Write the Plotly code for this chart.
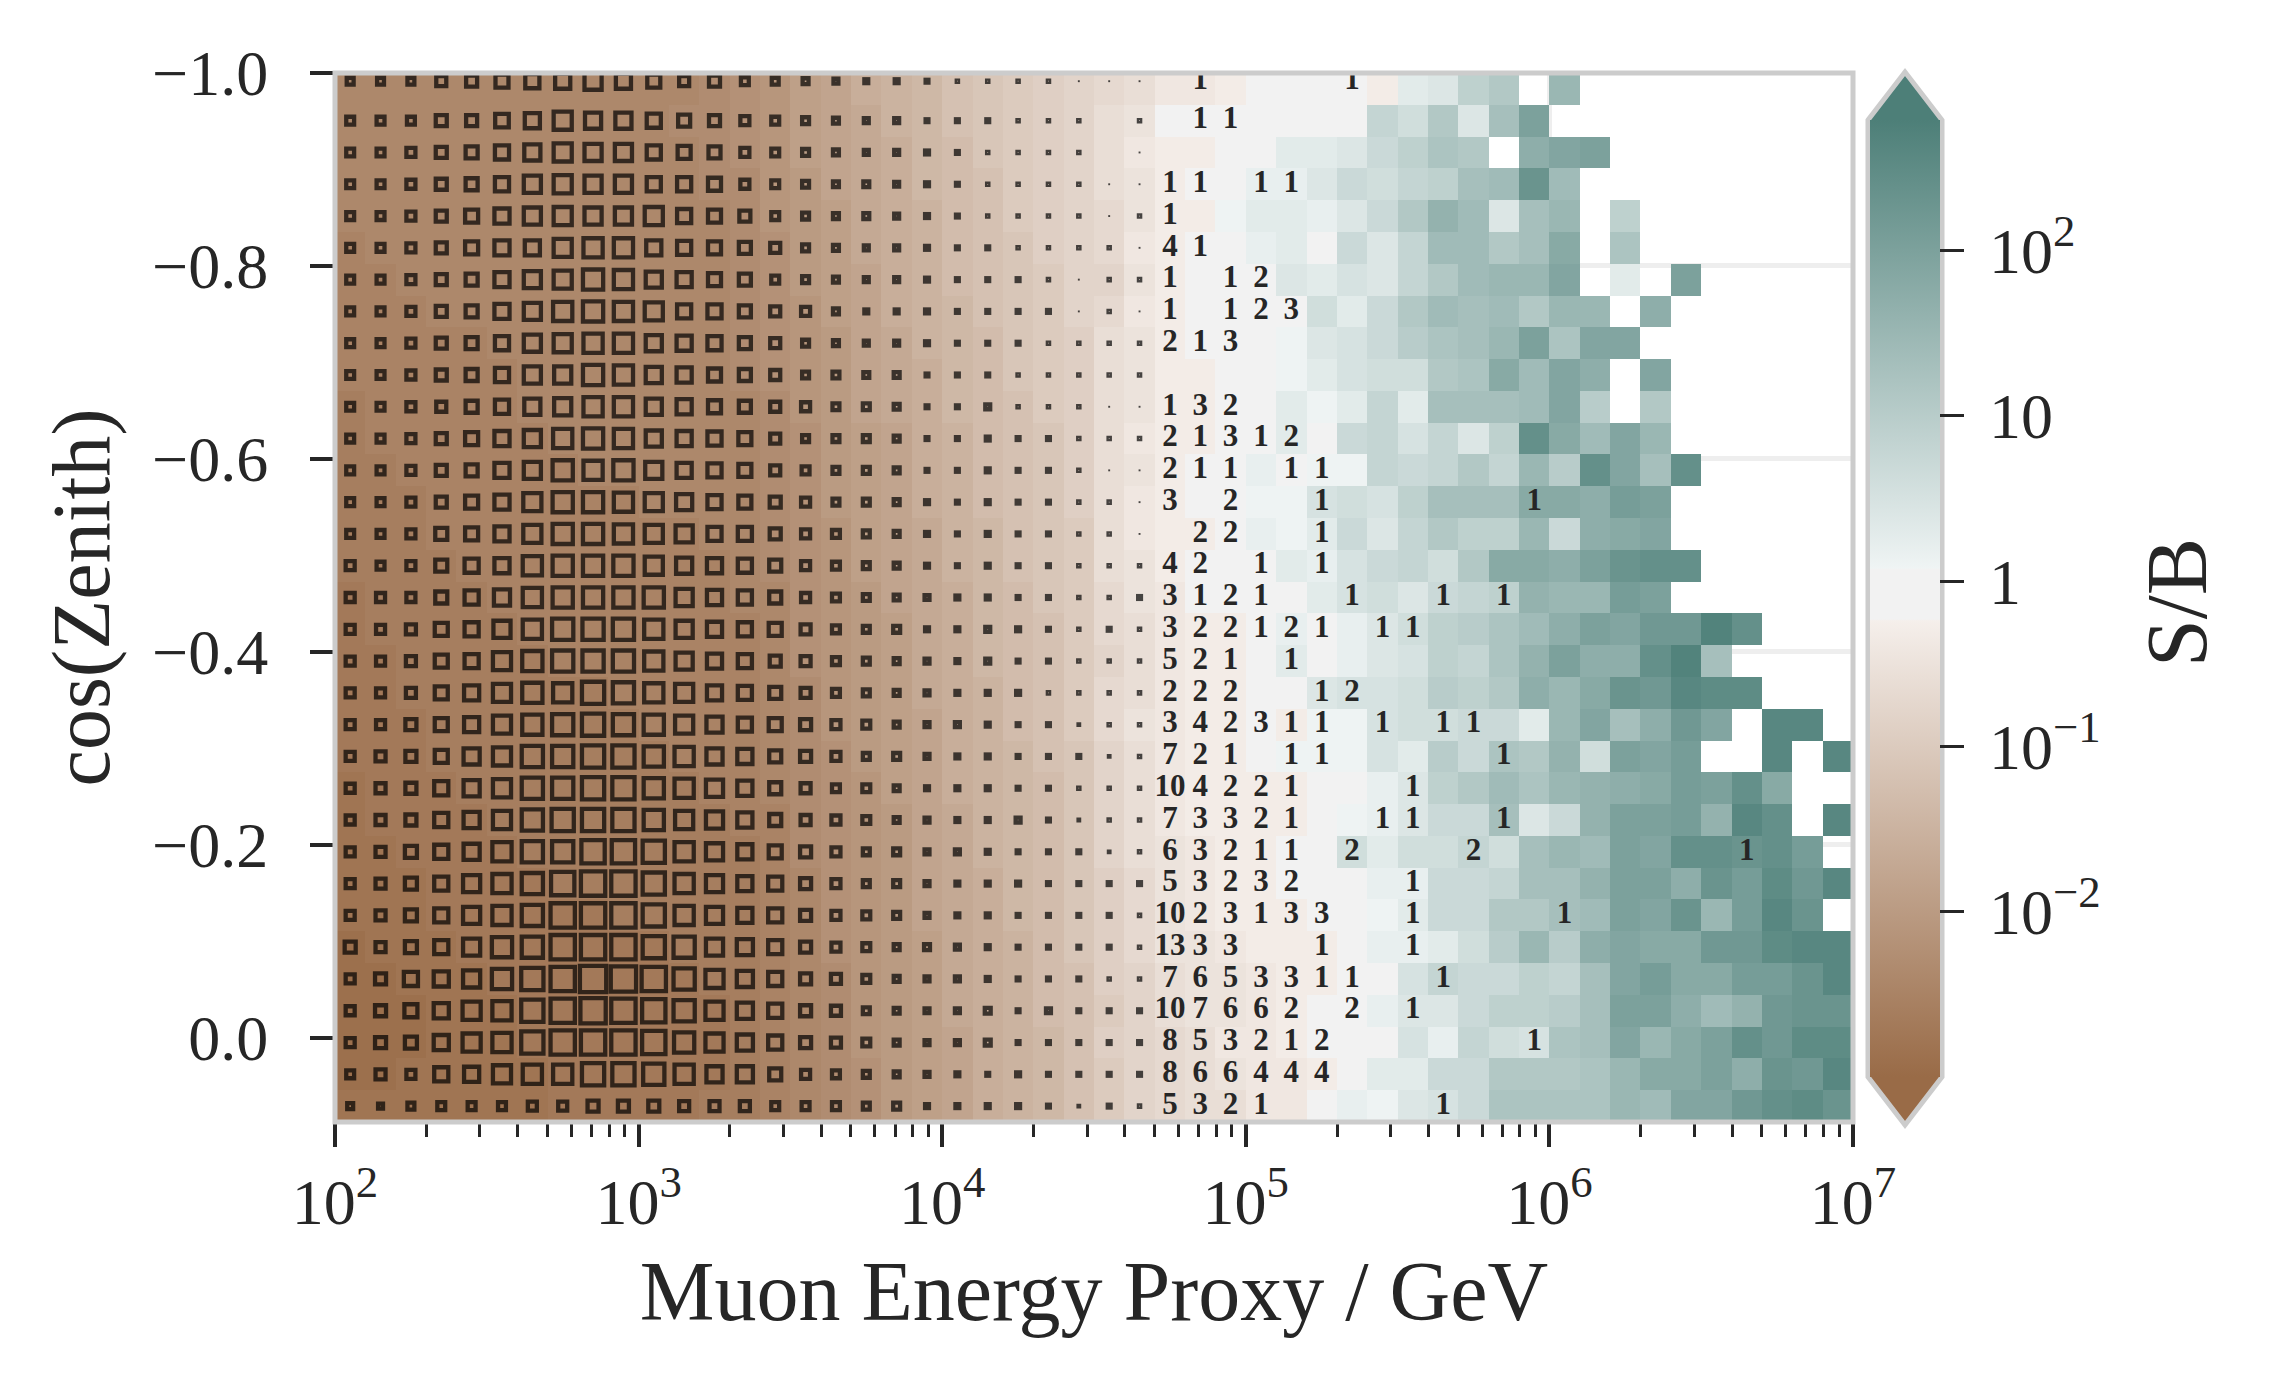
import numpy as np
import plotly.graph_objects as go

N = None

# log10(S/B) x 10 per bin, first list = cos(zenith) = -1 row, 50 energy bins each row
log_sb_low_e = [
    [-24,-24,-24,-24,-24,-24,-24,-24,-24,-24,-24,-24,-23,-22,-21,-19,-18,-16,-15,-14,-12,-11,-10,-9,-8],
    [-24,-24,-24,-24,-24,-24,-24,-24,-24,-24,-24,-23,-23,-22,-21,-19,-18,-17,-15,-14,-12,-11,-10,-9,-8],
    [-24,-24,-24,-24,-24,-24,-24,-24,-24,-24,-24,-24,-23,-22,-21,-19,-18,-17,-16,-14,-13,-11,-10,-9,-8],
    [-24,-24,-24,-24,-24,-24,-24,-24,-24,-24,-24,-24,-23,-23,-21,-20,-18,-17,-16,-14,-13,-12,-10,-9,-8],
    [-24,-24,-24,-24,-24,-24,-24,-24,-24,-24,-24,-24,-24,-23,-21,-20,-19,-17,-16,-15,-13,-12,-10,-9,-8],
    [-25,-24,-24,-24,-24,-24,-24,-24,-24,-24,-24,-24,-24,-23,-22,-20,-19,-17,-16,-15,-13,-12,-11,-9,-8],
    [-25,-25,-24,-24,-24,-24,-24,-24,-24,-24,-24,-24,-24,-23,-22,-20,-19,-18,-16,-15,-13,-12,-11,-10,-8],
    [-25,-25,-25,-24,-24,-24,-24,-24,-24,-24,-24,-24,-24,-23,-22,-21,-19,-18,-16,-15,-14,-12,-11,-10,-8],
    [-25,-25,-25,-25,-25,-24,-24,-24,-24,-24,-24,-24,-24,-23,-22,-21,-20,-18,-17,-15,-14,-13,-11,-10,-9],
    [-25,-25,-25,-25,-25,-25,-24,-24,-24,-24,-24,-24,-24,-23,-22,-21,-20,-18,-17,-16,-14,-13,-11,-10,-9],
    [-26,-25,-25,-25,-25,-25,-24,-24,-24,-24,-24,-24,-24,-24,-23,-21,-20,-18,-17,-16,-14,-13,-12,-10,-9],
    [-26,-25,-25,-25,-25,-25,-25,-24,-24,-24,-24,-24,-24,-24,-23,-22,-20,-19,-18,-16,-15,-13,-12,-11,-9],
    [-26,-26,-25,-25,-25,-25,-25,-25,-24,-24,-24,-24,-24,-24,-23,-22,-20,-19,-18,-16,-15,-13,-12,-11,-9],
    [-26,-26,-26,-25,-25,-25,-25,-25,-25,-25,-24,-24,-24,-24,-23,-22,-20,-19,-18,-16,-15,-13,-12,-11,-9],
    [-26,-26,-26,-25,-25,-25,-25,-25,-25,-25,-25,-25,-24,-24,-23,-22,-21,-19,-18,-17,-15,-14,-12,-11,-10],
    [-26,-26,-26,-26,-25,-25,-25,-25,-25,-25,-25,-25,-25,-24,-23,-22,-21,-19,-18,-17,-15,-14,-12,-11,-10],
    [-27,-26,-26,-26,-26,-25,-25,-25,-25,-25,-25,-25,-25,-24,-24,-22,-21,-20,-18,-17,-16,-14,-13,-11,-10],
    [-27,-26,-26,-26,-26,-26,-25,-25,-25,-25,-25,-25,-25,-25,-24,-22,-21,-20,-19,-17,-16,-14,-13,-12,-10],
    [-27,-27,-26,-26,-26,-26,-26,-25,-25,-25,-25,-25,-25,-25,-24,-22,-21,-20,-19,-17,-16,-14,-13,-12,-10],
    [-27,-27,-26,-26,-26,-26,-26,-26,-26,-25,-25,-25,-25,-25,-24,-23,-21,-20,-19,-17,-16,-15,-13,-12,-10],
    [-27,-27,-27,-26,-26,-26,-26,-26,-26,-26,-25,-25,-25,-25,-24,-23,-21,-20,-19,-18,-16,-15,-13,-12,-10],
    [-27,-27,-27,-26,-26,-26,-26,-26,-26,-26,-26,-25,-25,-25,-24,-23,-22,-20,-19,-18,-16,-15,-14,-12,-11],
    [-28,-27,-27,-27,-26,-26,-26,-26,-26,-26,-26,-26,-25,-25,-24,-23,-22,-21,-19,-18,-16,-15,-14,-13,-11],
    [-28,-27,-27,-27,-27,-26,-26,-26,-26,-26,-26,-26,-26,-25,-25,-23,-22,-21,-20,-18,-17,-15,-14,-13,-11],
    [-28,-28,-27,-27,-27,-27,-26,-26,-26,-26,-26,-26,-26,-26,-25,-23,-22,-21,-20,-18,-17,-15,-14,-13,-11],
    [-28,-28,-28,-27,-27,-27,-27,-26,-26,-26,-26,-26,-26,-26,-25,-24,-22,-21,-20,-18,-17,-16,-14,-13,-11],
    [-28,-28,-28,-27,-27,-27,-27,-27,-27,-26,-26,-26,-26,-26,-25,-24,-22,-21,-20,-18,-17,-16,-14,-13,-11],
    [-29,-28,-28,-28,-27,-27,-27,-27,-27,-27,-27,-26,-26,-26,-25,-24,-22,-21,-20,-19,-17,-16,-15,-13,-11],
    [-29,-29,-28,-28,-28,-27,-27,-27,-27,-27,-27,-27,-26,-26,-25,-24,-23,-21,-20,-19,-17,-16,-15,-13,-12],
    [-29,-29,-29,-28,-28,-28,-27,-27,-27,-27,-27,-27,-27,-26,-25,-24,-23,-21,-20,-19,-17,-16,-15,-13,-12],
    [-29,-29,-29,-28,-28,-28,-27,-27,-27,-27,-27,-27,-27,-26,-25,-24,-23,-21,-20,-19,-18,-16,-15,-14,-12],
    [-29,-29,-28,-28,-28,-28,-28,-27,-27,-27,-27,-27,-27,-26,-25,-24,-23,-22,-20,-19,-18,-16,-15,-14,-12],
    [-28,-28,-28,-28,-28,-28,-28,-27,-27,-27,-27,-27,-26,-26,-25,-24,-23,-22,-20,-19,-18,-16,-15,-14,-12],
]

log_sb_high_e = [
    [-7,-6,-4,-4,-3,0,0,0,0,-3,3,4,9,11,N,15,N,N,N,N,N,N,N,N,N],
    [-6,-5,-1,0,0,0,0,0,0,8,6,11,4,13,20,N,N,N,N,N,N,N,N,N,N],
    [-6,-4,-3,-3,0,0,3,3,4,7,9,12,11,N,17,19,20,N,N,N,N,N,N,N,N],
    [-6,-5,-3,-1,0,2,2,4,7,6,8,9,13,14,23,14,N,N,N,N,N,N,N,N,N],
    [-7,-5,-3,-3,1,3,3,2,4,7,11,16,14,4,13,15,N,9,N,N,N,N,N,N,N],
    [-7,-4,-3,-1,0,2,3,0,7,4,8,14,14,11,13,18,N,12,N,N,N,N,N,N,N],
    [-8,-5,-3,0,0,0,4,3,5,4,8,11,14,15,15,19,N,3,N,20,N,N,N,N,N],
    [-7,-4,-3,-1,0,0,0,6,3,7,11,14,13,14,11,15,15,N,17,N,N,N,N,N,N],
    [-6,-5,-3,-1,0,0,1,4,5,7,10,12,13,15,20,12,19,19,N,N,N,N,N,N,N],
    [-6,-5,-3,-3,0,0,1,3,5,6,6,11,12,18,14,19,17,N,19,N,N,N,N,N,N],
    [-6,-5,-3,-3,-1,0,3,1,3,8,3,13,13,13,14,19,10,N,11,N,N,N,N,N,N],
    [-6,-4,-3,-3,-1,0,3,0,7,8,5,8,4,9,24,18,14,19,15,N,N,N,N,N,N],
    [-6,-5,-3,-1,-1,2,0,1,1,8,7,8,11,8,15,10,24,19,13,24,N,N,N,N,N],
    [-6,-4,-3,-1,-1,1,1,5,6,5,9,13,13,13,18,18,17,21,20,N,N,N,N,N,N],
    [-6,-4,-3,-3,-1,2,1,3,7,4,8,11,9,9,15,7,17,18,19,N,N,N,N,N,N],
    [-6,-5,-3,-1,-1,0,3,2,5,7,8,6,11,18,18,17,20,23,24,24,N,N,N,N,N],
    [-7,-5,-4,-1,0,0,0,3,5,6,4,7,8,9,16,15,15,21,20,N,N,N,N,N,N],
    [-7,-6,-4,-3,-3,0,2,0,2,4,6,9,10,12,14,17,20,19,22,22,27,24,N,N,N],
    [-8,-6,-4,-3,-3,0,3,0,2,4,5,9,8,12,16,20,17,17,24,27,13,N,N,N,N],
    [-7,-6,-4,-3,-3,0,0,4,5,5,6,10,9,11,17,15,18,23,22,26,25,25,N,N,N],
    [-7,-5,-4,-3,-3,-1,-3,1,1,5,6,6,7,7,3,15,19,13,17,22,19,N,26,26,N],
    [-8,-6,-4,-3,-3,-1,1,1,1,5,3,10,7,12,11,16,6,20,19,21,N,N,26,N,26],
    [-8,-6,-4,-3,-3,-3,-3,0,0,2,4,9,11,14,12,15,16,17,18,21,20,24,18,N,N],
    [-8,-6,-4,-3,-3,-3,-3,0,1,2,4,7,7,13,4,7,16,20,20,21,16,26,24,N,26],
    [-8,-6,-5,-4,-3,-3,-1,0,6,3,6,6,8,6,13,15,14,20,19,24,24,23,24,21,N],
    [-9,-7,-5,-4,-3,-3,-1,0,0,2,2,7,7,8,13,13,16,20,20,17,23,21,25,22,26],
    [-9,-7,-5,-4,-3,-3,-3,-1,0,1,3,7,7,11,11,13,14,20,19,23,15,21,26,23,N],
    [-9,-7,-5,-5,-4,-3,-3,-3,-1,2,2,3,6,10,15,10,17,19,18,18,22,22,25,26,26],
    [-9,-8,-6,-5,-5,-4,-3,-3,-1,0,5,8,7,7,9,8,13,19,21,18,18,21,21,23,26],
    [-10,-8,-6,-5,-5,-4,-3,-1,-1,2,4,4,7,9,9,10,13,20,20,17,14,16,22,23,23],
    [-9,-8,-7,-6,-4,-4,-3,-1,0,0,5,2,8,6,5,12,13,19,15,18,20,24,22,25,25],
    [-10,-8,-7,-6,-5,-4,-4,-3,0,3,3,7,7,11,11,11,12,15,18,18,20,17,23,22,26],
    [-10,-8,-7,-6,-6,-4,-4,0,2,1,4,5,7,12,12,12,12,15,14,19,19,22,24,25,23],
]

# background events per bin in the first 27 energy bins (drawn as squares)
event_counts = [
    [115,115,115,229,275,377,441,503,639,503,377,229,275,147,115,86,62,41,41,24,20,20,20,20,1,1,1],
    [147,147,147,275,275,410,503,714,569,569,441,324,275,188,147,115,86,62,62,24,24,24,20,20,20,0,20],
    [147,147,188,275,324,441,569,714,639,639,441,377,324,188,147,115,86,62,62,41,24,20,20,20,20,0,1],
    [147,147,188,275,324,441,639,714,639,639,441,441,377,188,147,115,86,86,62,41,24,20,20,20,20,1,1],
    [147,147,188,275,377,503,639,714,639,639,714,441,377,275,147,115,86,86,62,41,24,20,20,20,20,1,20],
    [147,147,188,275,377,503,503,714,800,800,503,441,377,324,229,115,86,62,62,41,24,24,20,20,20,20,1],
    [147,147,188,275,324,503,639,714,883,800,569,503,377,324,147,115,86,62,62,41,24,24,24,20,1,20,20],
    [147,147,188,275,324,503,639,800,883,800,714,441,441,324,229,188,86,41,41,41,24,24,24,24,1,20,1],
    [147,147,188,275,324,441,639,714,800,800,569,503,441,324,229,115,86,62,62,41,24,24,24,20,20,20,20],
    [147,147,188,275,324,441,639,639,883,800,569,503,377,324,229,115,115,86,86,24,24,24,20,20,20,20,20],
    [147,147,188,229,324,441,569,639,800,800,569,503,377,324,229,188,115,115,86,24,24,62,20,20,20,1,1],
    [147,147,188,275,377,503,639,800,883,800,569,503,441,377,229,115,115,115,86,24,24,41,24,24,20,20,20],
    [147,147,188,275,324,503,639,883,800,883,639,503,441,377,229,147,115,115,86,24,24,41,24,24,20,1,1],
    [147,147,188,275,377,503,714,883,883,800,714,569,441,377,275,188,115,115,86,41,24,41,24,24,20,20,1],
    [147,147,188,324,377,503,714,883,883,800,714,639,441,441,275,188,147,115,86,41,24,41,24,24,20,20,1],
    [188,147,188,324,441,503,800,883,883,883,714,569,503,441,324,188,147,115,86,41,24,41,24,24,20,20,20],
    [188,188,188,324,441,569,800,883,883,883,883,639,503,441,324,188,147,115,86,62,41,41,24,24,20,20,24],
    [188,188,229,377,441,639,800,970,970,970,800,639,503,441,377,229,147,115,115,41,41,62,41,24,20,24,20],
    [188,188,229,377,441,714,883,970,970,970,800,639,503,441,275,229,147,115,86,62,41,62,24,24,20,20,20],
    [188,188,229,377,503,714,883,800,1061,970,800,714,503,441,324,229,147,115,86,62,41,41,41,20,20,20,20],
    [188,188,275,377,503,714,883,970,1061,970,883,714,569,441,377,275,188,147,86,62,62,41,24,24,12,20,20],
    [188,229,275,377,569,714,970,970,1061,1061,883,800,569,503,324,275,188,115,115,62,41,41,24,24,24,12,20],
    [188,229,275,441,569,714,970,970,1061,1061,883,800,639,503,324,229,147,147,86,41,41,41,24,24,20,20,20],
    [188,229,275,441,569,714,970,1061,1061,1061,883,714,639,503,324,229,188,147,86,62,41,41,62,24,12,20,20],
    [188,229,324,441,569,800,970,970,1166,1166,1061,800,639,503,377,275,188,115,115,62,62,41,24,24,24,12,20],
    [188,229,324,441,639,800,970,1166,1265,1265,1061,800,639,503,441,275,188,115,115,62,41,41,41,24,24,24,24],
    [188,229,324,441,639,800,970,1265,1265,1265,1061,800,639,503,441,275,188,147,115,62,41,41,24,24,24,24,20],
    [275,229,324,441,639,883,970,1265,1265,1265,1061,970,639,569,441,275,188,147,86,86,62,41,24,24,24,24,20],
    [188,275,441,503,639,883,1061,1265,1477,1369,1265,970,714,569,441,275,229,147,86,62,62,41,24,24,24,20,20],
    [188,275,377,503,714,800,1061,1265,1369,1265,1166,970,714,569,441,275,229,115,86,62,62,86,24,62,24,24,24],
    [188,275,324,503,714,800,1061,1265,1265,1265,1166,883,714,569,441,275,229,147,86,62,62,86,24,24,24,24,24],
    [147,229,188,441,503,714,800,800,1061,1061,970,800,569,569,324,188,147,115,86,62,41,24,41,24,24,24,24],
    [86,62,115,147,147,147,188,188,275,275,275,229,229,229,147,147,147,115,115,41,41,41,41,24,12,24,20],
]

# events printed as digits, energy bins 27 to 46, 0 = nothing printed
printed_counts = [
    [0,1,0,0,0,0,1,0,0,0,0,0,0,0,0,0,0,0,0,0],
    [0,1,1,0,0,0,0,0,0,0,0,0,0,0,0,0,0,0,0,0],
    [0,0,0,0,0,0,0,0,0,0,0,0,0,0,0,0,0,0,0,0],
    [1,1,0,1,1,0,0,0,0,0,0,0,0,0,0,0,0,0,0,0],
    [1,0,0,0,0,0,0,0,0,0,0,0,0,0,0,0,0,0,0,0],
    [4,1,0,0,0,0,0,0,0,0,0,0,0,0,0,0,0,0,0,0],
    [1,0,1,2,0,0,0,0,0,0,0,0,0,0,0,0,0,0,0,0],
    [1,0,1,2,3,0,0,0,0,0,0,0,0,0,0,0,0,0,0,0],
    [2,1,3,0,0,0,0,0,0,0,0,0,0,0,0,0,0,0,0,0],
    [0,0,0,0,0,0,0,0,0,0,0,0,0,0,0,0,0,0,0,0],
    [1,3,2,0,0,0,0,0,0,0,0,0,0,0,0,0,0,0,0,0],
    [2,1,3,1,2,0,0,0,0,0,0,0,0,0,0,0,0,0,0,0],
    [2,1,1,0,1,1,0,0,0,0,0,0,0,0,0,0,0,0,0,0],
    [3,0,2,0,0,1,0,0,0,0,0,0,1,0,0,0,0,0,0,0],
    [0,2,2,0,0,1,0,0,0,0,0,0,0,0,0,0,0,0,0,0],
    [4,2,0,1,0,1,0,0,0,0,0,0,0,0,0,0,0,0,0,0],
    [3,1,2,1,0,0,1,0,0,1,0,1,0,0,0,0,0,0,0,0],
    [3,2,2,1,2,1,0,1,1,0,0,0,0,0,0,0,0,0,0,0],
    [5,2,1,0,1,0,0,0,0,0,0,0,0,0,0,0,0,0,0,0],
    [2,2,2,0,0,1,2,0,0,0,0,0,0,0,0,0,0,0,0,0],
    [3,4,2,3,1,1,0,1,0,1,1,0,0,0,0,0,0,0,0,0],
    [7,2,1,0,1,1,0,0,0,0,0,1,0,0,0,0,0,0,0,0],
    [10,4,2,2,1,0,0,0,1,0,0,0,0,0,0,0,0,0,0,0],
    [7,3,3,2,1,0,0,1,1,0,0,1,0,0,0,0,0,0,0,0],
    [6,3,2,1,1,0,2,0,0,0,2,0,0,0,0,0,0,0,0,1],
    [5,3,2,3,2,0,0,0,1,0,0,0,0,0,0,0,0,0,0,0],
    [10,2,3,1,3,3,0,0,1,0,0,0,0,1,0,0,0,0,0,0],
    [13,3,3,0,0,1,0,0,1,0,0,0,0,0,0,0,0,0,0,0],
    [7,6,5,3,3,1,1,0,0,1,0,0,0,0,0,0,0,0,0,0],
    [10,7,6,6,2,0,2,0,1,0,0,0,0,0,0,0,0,0,0,0],
    [8,5,3,2,1,2,0,0,0,0,0,0,1,0,0,0,0,0,0,0],
    [8,6,6,4,4,4,0,0,0,0,0,0,0,0,0,0,0,0,0,0],
    [5,3,2,1,0,0,0,0,0,1,0,0,0,0,0,0,0,0,0,0],
]

x_edges = np.logspace(2, 7, 51)
y_edges = np.linspace(-1, 0.0872, 34)
x_mid = np.sqrt(x_edges[:-1] * x_edges[1:])
y_mid = (y_edges[:-1] + y_edges[1:]) / 2
y_mid[0] = -0.9915  # top row sits against the frame in the original

TEXT = '#262626'
FRAME = '#cccccc'
FONT = 'Liberation Serif'

# figure pixels of the axes box, the page body adds 8 px in front
W, H = 2274, 1386
OFF = 8
AX_L, AX_R, AX_T, AX_B = 335, 1853, 73, 1122


def px_x(p):
    return (p - AX_L) / (AX_R - AX_L)


def px_y(p):
    return (AX_B - p) / (AX_B - AX_T)


z = np.array([a + b for a, b in zip(log_sb_low_e, log_sb_high_e)], dtype=float) / 10

fig = go.Figure()

ZMIN, ZMAX = -3, 2.79


def stop(v):
    return (v - ZMIN) / (ZMAX - ZMIN)


colorscale = [
    [0, '#996b47'],
    [stop(-0.24), '#f5efeb'],
    [stop(-0.23), '#f2f2f2'],
    [stop(0.07), '#f2f2f2'],
    [stop(0.08), '#eff4f4'],
    [1, '#4d7f78'],
]

fig.add_trace(go.Heatmap(
    x=x_edges, y=y_edges, z=z, zmin=ZMIN, zmax=ZMAX, colorscale=colorscale,
    hoverongaps=False,
    colorbar=dict(
        x=px_x(1870), xanchor='left', xpad=0, ypad=0,
        y=px_y(598.5), yanchor='middle',
        lenmode='pixels', len=957, thicknessmode='pixels', thickness=70,
        outlinewidth=0,
        ticks='outside', ticklen=24, tickwidth=3, tickcolor=TEXT,
        tickmode='array', tickvals=[-2, -1, 0, 1, 2],
        ticktext=['\u200910<sup>−2</sup>', '\u200910<sup>−1</sup>', '\u20091', '\u200910', '\u200910<sup>2</sup>'],
        tickfont=dict(family=FONT, size=64, color=TEXT),
    ),
))

counts = np.array(event_counts)
rows, cols = np.nonzero(counts)
shown = counts[rows, cols]
fig.add_trace(go.Scatter(
    x=x_mid[cols], y=y_mid[rows], mode='markers', hoverinfo='skip',
    marker=dict(
        symbol='square-open', color='black',
        size=0.7 * np.sqrt(shown) - np.where(shown >= 24, 0.6, 0),
        line=dict(color='black', width=np.where(shown >= 24, 4.3, np.where(shown > 1, 2.4, 1.2))),
    ),
))

printed = np.array(printed_counts)
rows, cols = np.nonzero(printed)
fig.add_trace(go.Scatter(
    x=x_mid[cols + 27], y=y_mid[rows], mode='text', hoverinfo='skip',
    text=[str(v) for v in printed[rows, cols]],
    textposition='middle center',
    textfont=dict(family=FONT, size=31, color=TEXT, weight='bold'),
))

minor_x = [m * 10 ** d for d in range(2, 7) for m in range(2, 10)]

fig.update_xaxes(
    type='log', range=[2, 7],
    tickmode='array', tickvals=[1e2, 1e3, 1e4, 1e5, 1e6, 1e7],
    ticktext=['10<sup>%d</sup>' % d for d in range(2, 8)],
    ticks='outside', ticklen=24, tickwidth=4, tickcolor=TEXT,
    minor=dict(tickmode='array', tickvals=minor_x, ticks='outside', ticklen=14,
               tickwidth=3, tickcolor=TEXT, showgrid=False),
    showgrid=True, gridcolor='#eeeeee', gridwidth=5, zeroline=False, showline=False,
    tickfont=dict(family=FONT, size=64, color=TEXT),
    title=dict(text='Muon Energy Proxy / GeV', font=dict(family=FONT, size=84, color=TEXT), standoff=24),
)
fig.update_yaxes(
    range=[0.0872, -1],
    tickmode='array', tickvals=[-1, -0.8, -0.6, -0.4, -0.2, 0],
    ticktext=['−1.0', '−0.8', '−0.6', '−0.4', '−0.2', '0.0'],
    ticks='outside', ticklen=24, tickwidth=4, tickcolor=TEXT, ticklabelstandoff=29,
    showgrid=True, gridcolor='#eeeeee', gridwidth=5, zeroline=False, showline=False,
    tickfont=dict(family=FONT, size=64, color=TEXT),
    title=dict(text='cos(Zenith)', font=dict(family=FONT, size=82, color=TEXT), standoff=15),
)

# colorbar end caps and outline, plus the box drawn over the cells
cb_l, cb_r, cb_c = px_x(1870), px_x(1940), px_x(1905)
cb_t, cb_b = px_y(120), px_y(1077)
tip_t, tip_b = px_y(72), px_y(1125)
edge_l, edge_r = px_x(1868), px_x(1942)


def path(points, close=True):
    s = 'M ' + ' L '.join('%.5f %.5f' % p for p in points)
    return s + (' Z' if close else '')


fig.update_layout(
    width=W, height=H, autosize=False,
    margin=dict(l=AX_L - OFF, r=W - AX_R + OFF, t=AX_T - OFF, b=H - AX_B + OFF, pad=0),
    paper_bgcolor='white', plot_bgcolor='white', showlegend=False,
    shapes=[
        dict(type='rect', xref='x domain', yref='y domain', x0=0, x1=1, y0=0, y1=1,
             line=dict(color=FRAME, width=5), layer='above'),
        dict(type='path', xref='paper', yref='paper', layer='above',
             path=path([(cb_l, cb_t), (cb_c, tip_t), (cb_r, cb_t)]),
             fillcolor='#4d7f78', line=dict(width=0)),
        dict(type='path', xref='paper', yref='paper', layer='above',
             path=path([(cb_l, cb_b), (cb_c, tip_b), (cb_r, cb_b)]),
             fillcolor='#996b47', line=dict(width=0)),
        dict(type='path', xref='paper', yref='paper', layer='above',
             path=path([(edge_l, cb_t), (cb_c, tip_t), (edge_r, cb_t), (edge_r, cb_b),
                        (cb_c, tip_b), (edge_l, cb_b)]),
             line=dict(color=FRAME, width=5)),
    ],
    annotations=[dict(
        text='S/B', xref='paper', yref='paper', x=px_x(2177), y=px_y(603),
        xanchor='center', yanchor='middle',
        showarrow=False, textangle=-90, font=dict(family=FONT, size=86, color=TEXT),
    )],
)

fig.write_html("out.html")
